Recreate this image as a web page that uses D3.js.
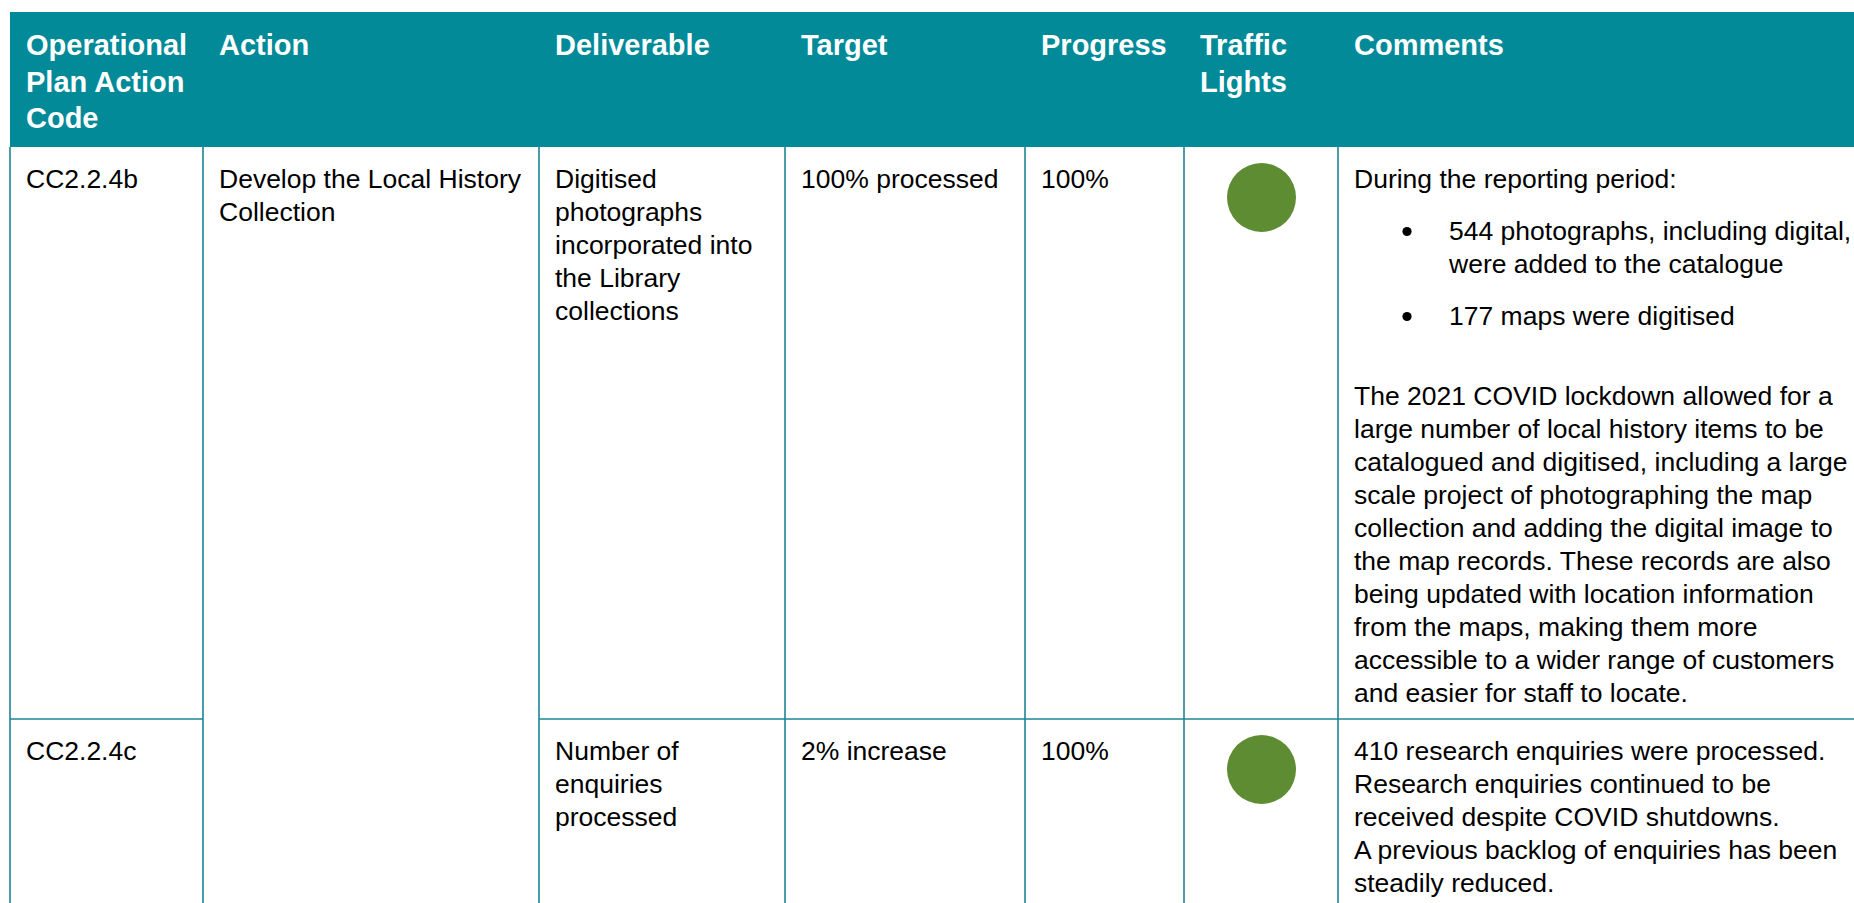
<!DOCTYPE html>
<html>
<head>
<meta charset="utf-8">
<script src="https://cdn.jsdelivr.net/npm/d3@7"></script>
<style>
  html, body { margin: 0; padding: 0; background: #fff; overflow: hidden; }
  svg { display: block; }
</style>
</head>
<body>
<svg id="chart" width="1854" height="903"></svg>
<script>
// ---------- DATA ----------
const columns = ["code", "action", "deliverable", "target", "progress", "light", "comments"];
const headerLabels = [
  ["Operational", "Plan Action", "Code"],
  ["Action"],
  ["Deliverable"],
  ["Target"],
  ["Progress"],
  ["Traffic", "Lights"],
  ["Comments"]
];
const codes = ["CC2.2.4b", "CC2.2.4c"];
const actions = [["Develop the Local History", "Collection"]];   // spans both rows
const deliverables = [
  ["Digitised", "photographs", "incorporated into", "the Library", "collections"],
  ["Number of", "enquiries", "processed"]
];
const targets = ["100% processed", "2% increase"];
const progress = ["100%", "100%"];
const lights = ["green", "green"];
const comments = [
  [
    { kind: "para",   lines: ["During the reporting period:"] },
    { kind: "bullet", lines: ["544 photographs, including digital,", "were added to the catalogue"] },
    { kind: "bullet", lines: ["177 maps were digitised"] },
    { kind: "para",   lines: ["The 2021 COVID lockdown allowed for a", "large number of local history items to be",
                              "catalogued and digitised, including a large", "scale project of photographing the map",
                              "collection and adding the digital image to", "the map records. These records are also",
                              "being updated with location information", "from the maps, making them more",
                              "accessible to a wider range of customers", "and easier for staff to locate."] }
  ],
  [
    { kind: "plain",  lines: ["410 research enquiries were processed.", "Research enquiries continued to be",
                              "received despite COVID shutdowns.", "A previous backlog of enquiries has been",
                              "steadily reduced."] }
  ]
];

// ---------- LAYOUT / STYLE ----------
const tableLeft = 10;
const colWidths = [193, 336, 246, 240, 159, 154, 540];
const headerTop = 12, headerBottom = 147;
const rowHeights = [572, 200];
const pad = 16;
const bodySize = 26.5, headSize = 29;
const bodyLH = 33, headLH = 36.5;
const headFirstBase = 43;   // from header top
const bodyFirstBase = 40.5; // from row top
const teal = "#028A99", border = "#1E8497", green = "#5E8C32";
const font = "'Liberation Sans', Arial, sans-serif";

const svg = d3.select("#chart");

// x positions via cumulative widths
const edges = [tableLeft, ...Array.from(d3.cumsum(colWidths), d => d + tableLeft)];
const x = d3.scaleOrdinal().domain(columns).range(edges.slice(0, -1));
const xRight = d3.scaleOrdinal().domain(columns).range(edges.slice(1));

const rowTops = [headerBottom, ...Array.from(d3.cumsum(rowHeights), d => d + headerBottom)];
const y = d3.scaleOrdinal().domain(d3.range(rowHeights.length)).range(rowTops.slice(0, -1));
const lightColor = d3.scaleOrdinal().domain(["green", "amber", "red"]).range([green, "#F2A900", "#C00000"]);

// header background
svg.append("rect")
  .attr("x", tableLeft).attr("y", headerTop)
  .attr("width", 1854 - tableLeft + 20).attr("height", headerBottom - headerTop)
  .attr("fill", teal);

// header text
const hg = svg.append("g").attr("font-family", font).attr("font-size", headSize)
  .attr("font-weight", "bold").attr("fill", "#fff");
columns.forEach((c, i) => {
  hg.append("text").selectAll("tspan").data(headerLabels[i]).join("tspan")
    .attr("x", x(c) + pad)
    .attr("y", (d, j) => headerTop + headFirstBase + j * headLH)
    .text(d => d);
});

// grid lines
const gl = svg.append("g").attr("stroke", border).attr("stroke-width", 1.6).attr("fill", "none");
const bottomAll = rowTops[rowTops.length - 1];
edges.slice(0, -1).forEach(e => {
  gl.append("line").attr("x1", e).attr("x2", e).attr("y1", headerBottom).attr("y2", bottomAll);
});
rowTops.slice(1, -1).forEach(t => {
  columns.forEach(c => {
    if (c === "action") return;   // merged cell
    gl.append("line").attr("x1", x(c)).attr("x2", xRight(c)).attr("y1", t).attr("y2", t);
  });
});

// body text
const bg = svg.append("g").attr("font-family", font).attr("font-size", bodySize).attr("fill", "#000");
function block(col, row, lines) {
  bg.append("text").selectAll("tspan").data(lines).join("tspan")
    .attr("x", x(col) + pad)
    .attr("y", (d, j) => y(row) + bodyFirstBase + j * bodyLH)
    .text(d => d);
}
codes.forEach((d, i) => block("code", i, [d]));
actions.forEach((d, i) => block("action", i, d));
deliverables.forEach((d, i) => block("deliverable", i, d));
targets.forEach((d, i) => block("target", i, [d]));
progress.forEach((d, i) => block("progress", i, [d]));

// traffic lights
svg.append("g").selectAll("circle").data(lights).join("circle")
  .attr("cx", (d) => (x("light") + xRight("light")) / 2 + 0.5)
  .attr("cy", (d, i) => y(i) + 50.5)
  .attr("r", 34.5)
  .attr("fill", d => lightColor(d));

// comments
const bulletIndent = 69, bulletTextIndent = 111;
const afterPara = 19, afterBulletGroup = 28;
comments.forEach((items, r) => {
  let base = y(r) + bodyFirstBase;
  items.forEach((it, k) => {
    const tx = x("comments") + (it.kind === "bullet" ? bulletTextIndent : pad);
    if (it.kind === "bullet") {
      bg.append("circle").attr("cx", x("comments") + bulletIndent).attr("cy", base - 8)
        .attr("r", 4.6).attr("fill", "#000");
    }
    bg.append("text").selectAll("tspan").data(it.lines).join("tspan")
      .attr("x", tx)
      .attr("y", (d, j) => base + j * bodyLH)
      .text(d => d);
    base += it.lines.length * bodyLH;
    if (it.kind !== "plain") base += afterPara;
    const next = items[k + 1];
    if (it.kind === "bullet" && next && next.kind !== "bullet") base += afterBulletGroup;
  });
});
</script>
</body>
</html>
